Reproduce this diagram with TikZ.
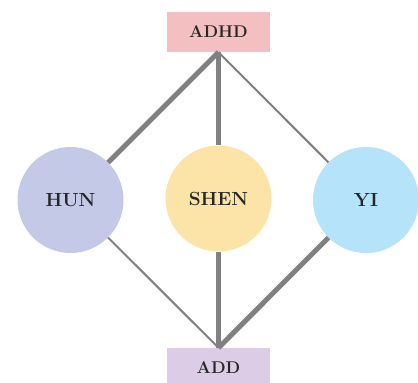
\documentclass[tikz,border=0pt]{standalone}
\begin{document}
\begin{tikzpicture}[x=1pt,y=-1pt,
  lbl/.style={text=black!85},
  box/.style={lbl, font=\fontsize{17}{19}\selectfont\bfseries, draw=none, minimum width=103pt, minimum height=40pt, inner sep=0pt},
  ball/.style={lbl, font=\fontsize{19}{21}\selectfont\bfseries, circle, draw=none, minimum size=106pt, inner sep=0pt},
  thick link/.style={draw=linkgray, line width=5pt},
  thin link/.style={draw=linkgray, line width=2pt}]
\definecolor{linkgray}{HTML}{808080}
\definecolor{pinkbox}{HTML}{F4BFC0}
\definecolor{lilacbox}{HTML}{DCCCE6}
\definecolor{hunblue}{HTML}{C3C9E7}
\definecolor{shenyellow}{HTML}{FCE4A9}
\definecolor{yiblue}{HTML}{B4E3FA}
\useasboundingbox (0,0) rectangle (418,383);
\clip (0,0) rectangle (418,383);
\node[box, fill=pinkbox] (adhd) at (218.5,32) {ADHD};
\node[box, fill=lilacbox] (add) at (218.5,368) {ADD};
\node[ball, fill=hunblue] (hun) at (70.5,200) {HUN};
\node[ball, fill=shenyellow] (shen) at (218.5,198.5) {SHEN};
\node[ball, fill=yiblue] (yi) at (366,200) {YI};
\path[thick link] (adhd.south) -- (hun);
\path[thick link] (adhd.south) -- (shen);
\path[thin link] (adhd.south) -- (yi);
\path[thin link] (add.north) -- (hun);
\path[thick link] (add.north) -- (shen);
\path[thick link] (add.north) -- (yi);
\end{tikzpicture}
\end{document}
